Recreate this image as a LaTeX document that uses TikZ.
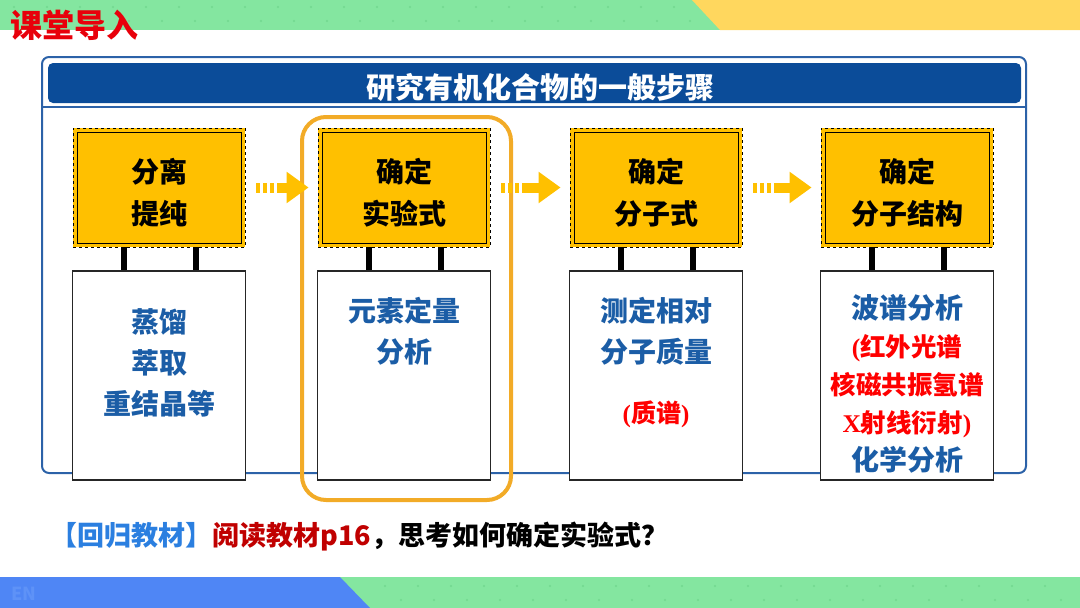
\documentclass[tikz,border=0pt]{standalone}
\usepackage{fontspec}
\setmainfont{Liberation Serif}
\newfontfamily\cjk{Noto Sans CJK SC}[BoldFont={Noto Sans CJK SC Black}]
\newfontfamily\latin{Liberation Serif}
\usetikzlibrary{arrows.meta}

\definecolor{bandgreen}{HTML}{84E6A0}
\definecolor{dotgreen}{HTML}{72D88F}
\definecolor{bandyellow}{HTML}{FFD75E}
\definecolor{bandblue}{HTML}{4F86F5}
\definecolor{enblue}{HTML}{5E92F7}
\definecolor{titlered}{HTML}{E8000B}
\definecolor{framecol}{HTML}{2C62A8}
\definecolor{barblue}{HTML}{0B4C99}
\definecolor{boxyellow}{HTML}{FFC000}
\definecolor{focusorange}{HTML}{F2AB27}
\definecolor{textblue}{HTML}{1B5DA6}
\definecolor{linkblue}{HTML}{2B7FE0}
\definecolor{darkred}{HTML}{C00000}

\newcommand{\lat}[1]{{\latin\bfseries #1}}

\begin{document}
\begin{tikzpicture}[x=1pt,y=-1pt,
  stepbox/.style={fill=boxyellow, draw=black, dashed, line width=0.8pt,
    minimum width=172pt, minimum height=119pt, inner sep=0pt, align=center,
    font=\cjk\bfseries\fontsize{28}{42}\selectfont,
    path picture={\draw[black, solid, line width=0.8pt]
      ([xshift=4pt,yshift=-4pt]path picture bounding box.north west) rectangle
      ([xshift=-4pt,yshift=4pt]path picture bounding box.south east);}},
  steptext/.style={align=center, inner sep=0pt,
    font=\cjk\bfseries\fontsize{28}{42}\selectfont},
  infobox/.style={fill=white, draw=black!85, line width=1.5pt,
    minimum width=173pt, minimum height=209pt, inner sep=0pt},
  infotext/.style={text=textblue, align=center, inner sep=0pt,
    font=\cjk\bfseries\fontsize{28}{41}\selectfont},
  post/.style={black, line width=5.5pt},
  flow/.style={boxyellow, line width=10pt,
    dash pattern=on 4pt off 3pt on 4pt off 3pt on 4pt off 3pt on 40pt,
    -{Triangle[length=22pt,width=30pt]}},
  focus/.style={focusorange, line width=4pt, rounded corners=24pt}]
\useasboundingbox (0,0) rectangle (1080,608);

% Top band
\fill[bandgreen] (0,0) rectangle (1080,30);
\fill[bandyellow] (692,0) -- (1080,0) -- (1080,30) -- (720,30) -- cycle;
\foreach \x in {14,47,...,680} \fill[dotgreen] (\x,7) circle (1.2) (\x+16,21) circle (1.2);

% Bottom band
\fill[bandgreen] (0,577) rectangle (1080,608);
\fill[bandblue] (0,577) -- (340,577) -- (370,608) -- (0,608) -- cycle;
\foreach \x in {385,418,...,1070} \fill[dotgreen] (\x,586) circle (1.2) (\x+16,600) circle (1.2);
\node[anchor=west, text=enblue, font=\cjk\bfseries\fontsize{18}{18}\selectfont] (en) at (8,594) {EN};

% Lesson title
\node[anchor=west, text=titlered, font=\cjk\bfseries\fontsize{32}{32}\selectfont] (lesson) at (7,25) {课堂导入};

% Frame and heading
\draw[framecol, line width=2pt, rounded corners=7pt] (42,57) rectangle (1026,473);
\node[fill=barblue, rounded corners=5pt, minimum width=973pt, minimum height=40pt] (head) at (534.5,83) {};
\node[text=white, inner sep=0pt, font=\cjk\bfseries\fontsize{29}{29}\selectfont] (headtext) at (540,87) {研究有机化合物的一般步骤};
\draw[framecol, line width=1.5pt] (42,107) -- (1026,107);

% Steps
\node[stepbox] (y1) at (159,187.5) {};
\node[stepbox] (y2) at (404,187.5) {};
\node[stepbox] (y3) at (656,187.5) {};
\node[stepbox] (y4) at (907,187.5) {};
\node[steptext] (s1) at (159,193) {分离\\提纯};
\node[steptext] (s2) at (404,193) {确定\\实验式};
\node[steptext] (s3) at (656,193) {确定\\分子式};
\node[steptext] (s4) at (907,193) {确定\\分子结构};

% Methods
\node[infobox] (w1) at (159,375.5) {};
\node[infobox] (w2) at (404,375.5) {};
\node[infobox] (w3) at (656,375.5) {};
\node[infobox] (w4) at (907,375.5) {};

\node[infotext] (t1) at (159,363) {蒸馏\\萃取\\重结晶等};
\node[infotext] (t2) at (404,331.5) {元素定量\\分析};
\node[infotext] (t3) at (656,331.5) {测定相对\\分子质量};
\node[infotext, text=red, font=\cjk\bfseries\fontsize{25}{25}\selectfont] (r3) at (656,414) {\lat{(}质谱\lat{)}};
\node[infotext, font=\cjk\bfseries\fontsize{28}{38}\selectfont] (t4) at (907,383.5)
  {波谱分析\\
   {\color{red}\fontsize{25.5}{38}\selectfont\lat{(}红外光谱}\\
   {\color{red}\fontsize{25.5}{38}\selectfont 核磁共振氢谱}\\
   {\color{red}\fontsize{25.5}{38}\selectfont\lat{X}射线衍射\lat{)}}\\
   化学分析};

% Posts
\foreach \i in {1,...,4} {
  \draw[post] ([xshift=-35pt]y\i.south) -- ([xshift=-35pt]w\i.north);
  \draw[post] ([xshift=37pt]y\i.south) -- ([xshift=37pt]w\i.north);
}

% Highlight
\draw[focus] (302,117) rectangle (511,500);

% Flow arrows
\foreach \a/\b in {y1/y2,y2/y3,y3/y4}
  \draw[flow] ([xshift=11pt]\a.east) -- ([xshift=-9pt]\b.west);

% Task
\node[anchor=west, font=\cjk\bfseries\fontsize{27}{27}\selectfont] (task) at (47,537)
  {\textcolor{linkblue}{【回归教材】}\textcolor{darkred}{阅读教材p16}，思考如何确定实验式？};
\end{tikzpicture}
\end{document}
